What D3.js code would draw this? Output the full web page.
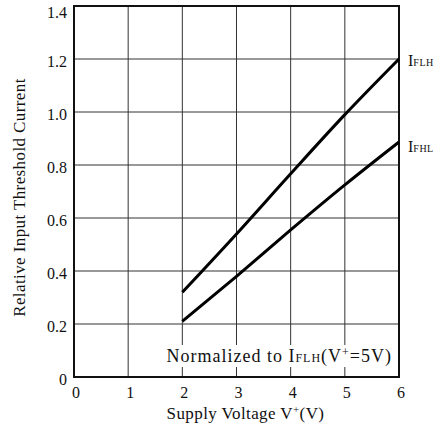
<!DOCTYPE html>
<html>
<head>
<meta charset="utf-8">
<script src="https://cdn.jsdelivr.net/npm/d3@7"></script>
<style>
  body { margin: 0; background: #fff; }
</style>
</head>
<body>
<div id="chart"></div>
<script>
// Data
const voltage = [2, 3, 4, 5, 6];
const iflh = [0.32, 0.54, 0.767, 0.99, 1.2];
const ifhl = [0.21, 0.38, 0.555, 0.725, 0.887];
const xTicks = [0, 1, 2, 3, 4, 5, 6];
const yTicks = [0, 0.2, 0.4, 0.6, 0.8, 1.0, 1.2, 1.4];

const width = 447;
const height = 431;
const margin = { top: 6, right: 48, bottom: 54, left: 74 };
const serif = "Liberation Serif";

const svg = d3.select("#chart")
    .append("svg")
    .attr("width", width)
    .attr("height", height);

const x = d3.scaleLinear()
    .domain([0, 6])
    .range([margin.left, width - margin.right]);

const y = d3.scaleLinear()
    .domain([0, 1.4])
    .range([height - margin.bottom, margin.top]);

function txt(sel) {
    return sel.append("text").attr("font-family", serif).attr("fill", "#111");
}

// Grid
svg.append("g")
    .selectAll("line")
    .data(xTicks.slice(1, -1))
    .enter().append("line")
    .attr("x1", d => x(d)).attr("x2", d => x(d))
    .attr("y1", y(0)).attr("y2", y(1.4))
    .attr("stroke", "#333").attr("stroke-width", 1);

svg.append("g")
    .selectAll("line")
    .data(yTicks.slice(1, -1))
    .enter().append("line")
    .attr("x1", x(0)).attr("x2", x(6))
    .attr("y1", d => y(d)).attr("y2", d => y(d))
    .attr("stroke", "#333").attr("stroke-width", 1);

// Note box (covers grid)
const noteG = svg.append("g");
const note = txt(noteG)
    .attr("x", x(6) - 7)
    .attr("y", y(0) - 15)
    .attr("text-anchor", "end")
    .attr("letter-spacing", 1)
    .attr("font-size", 18);
note.append("tspan").text("Normalized to I");
note.append("tspan").text("FLH").attr("font-size", 12);
note.append("tspan").text("(V");
note.append("tspan").text("+").attr("font-size", 12).attr("dy", -6);
note.append("tspan").text("=5V)").attr("dy", 6);
const bb = note.node().getBBox();
noteG.insert("rect", "text")
    .attr("x", bb.x - 3).attr("y", bb.y)
    .attr("width", bb.width + 6).attr("height", bb.height)
    .attr("fill", "#fff");

// Frame
svg.append("rect")
    .attr("x", x(0)).attr("y", y(1.4))
    .attr("width", x(6) - x(0))
    .attr("height", y(0) - y(1.4))
    .attr("fill", "none")
    .attr("stroke", "#111")
    .attr("stroke-width", 2);

// Tick labels
xTicks.forEach(d => {
    txt(svg).attr("x", x(d) + 2).attr("y", y(0) + 21)
        .attr("text-anchor", "middle").attr("font-size", 16).text(d);
});
yTicks.forEach(d => {
    txt(svg).attr("x", x(0) - 7).attr("y", y(d) + (d === 1.4 ? 12 : 8))
        .attr("text-anchor", "end").attr("font-size", 16)
        .text(d === 0 ? "0" : d3.format(".1f")(d));
});

// Curves
const line = d3.line()
    .x((d, i) => x(voltage[i]))
    .y(d => y(d))
    .curve(d3.curveMonotoneX);

[iflh, ifhl].forEach(s => {
    svg.append("path")
        .datum(s)
        .attr("d", line)
        .attr("fill", "none")
        .attr("stroke", "#000")
        .attr("stroke-width", 3);
});

// Series labels
const lab1 = txt(svg).attr("x", x(6) + 9).attr("y", y(1.2) + 7).attr("font-size", 16);
lab1.append("tspan").text("I");
lab1.append("tspan").text("FLH").attr("font-size", 10).attr("letter-spacing", 0.5);
const lab2 = txt(svg).attr("x", x(6) + 9).attr("y", y(0.887) + 10).attr("font-size", 16);
lab2.append("tspan").text("I");
lab2.append("tspan").text("FHL").attr("font-size", 10).attr("letter-spacing", 0.5);

// Axis titles
const xt = txt(svg)
    .attr("x", (x(0) + x(6)) / 2 + 9)
    .attr("y", 419)
    .attr("text-anchor", "middle")
    .attr("letter-spacing", 0.4)
    .attr("font-size", 17);
xt.append("tspan").text("Supply Voltage V");
xt.append("tspan").text("+").attr("font-size", 11).attr("dy", -6);
xt.append("tspan").text("(V)").attr("dy", 6);

txt(svg)
    .attr("transform", `translate(25,${(y(0) + y(1.4)) / 2 + 6}) rotate(-90)`)
    .attr("text-anchor", "middle")
    .attr("letter-spacing", 0.4)
    .attr("font-size", 17)
    .text("Relative Input Threshold Current");
</script>
</body>
</html>
